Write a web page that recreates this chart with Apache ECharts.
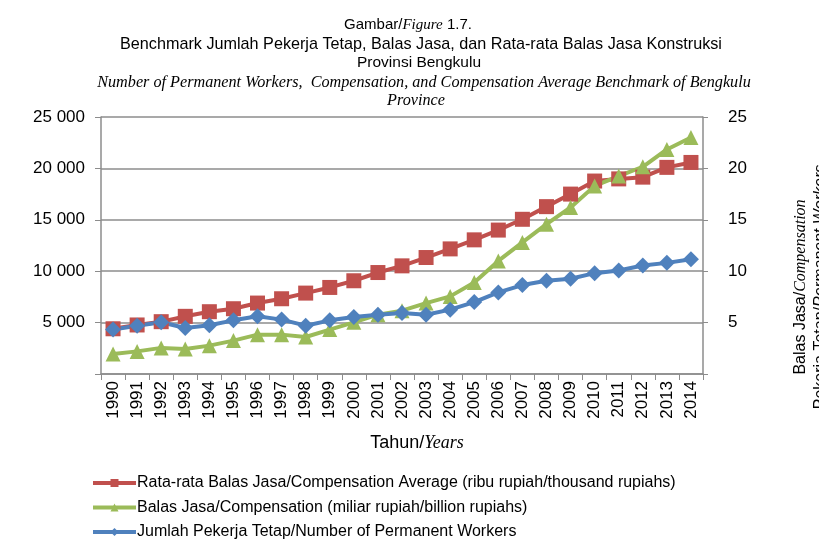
<!DOCTYPE html>
<html>
<head>
<meta charset="utf-8">
<script src="https://cdn.jsdelivr.net/npm/echarts@6/dist/echarts.min.js"></script>
<style>html,body{margin:0;padding:0;background:#fff}#c{width:819px;height:552px}</style>
</head>
<body>
<div id="c"></div>
<script>
var years = ['1990','1991','1992','1993','1994','1995','1996','1997','1998','1999','2000','2001','2002','2003','2004','2005','2006','2007','2008','2009','2010','2011','2012','2013','2014'];
var avgComp = [4400,4770,5090,5610,6060,6350,6900,7320,7870,8420,9070,9870,10520,11330,12170,13050,14000,15050,16280,17500,18770,18980,19150,20100,20580];
var comp = [1950,2200,2540,2440,2760,3250,3830,3830,3600,4320,5030,5770,6160,6900,7550,8900,11000,12800,14570,16200,18300,19250,20160,21840,23000];
var workers = [4320,4700,5030,4480,4740,5220,5610,5290,4700,5220,5550,5770,5930,5770,6260,7000,7940,8650,9070,9260,9810,10070,10550,10810,11170];
var leftTicks = [0,5000,10000,15000,20000,25000];
var rightTicks = [0,5,10,15,20,25];
var seriesNames = [
  'Rata-rata Balas Jasa/Compensation Average (ribu rupiah/thousand rupiahs)',
  'Balas Jasa/Compensation (miliar rupiah/billion rupiahs)',
  'Jumlah Pekerja Tetap/Number of Permanent Workers'
];

var chart = echarts.init(document.getElementById('c'));
var sans = 'Liberation Sans, Arial, sans-serif';
var serif = 'Liberation Serif, Times New Roman, serif';
function mkSeries(name, data, color, symbol, size) {
  return {
    name: name, type: 'line', data: data, yAxisIndex: 0,
    symbol: symbol, symbolSize: size,
    lineStyle: {color: color, width: 4},
    itemStyle: {color: color},
    emphasis: {disabled: true},
    animation: false
  };
}
function rs(size, italic, family) {
  return {fontFamily: family, fontStyle: italic ? 'italic' : 'normal', fontSize: size, color: '#000'};
}
var titleLines = [
  {x: 408, y: 25, text: '{a|Gambar/}{b|Figure}{a| 1.7.}', rich: {a: rs(15, false, sans), b: rs(15, true, serif)}},
  {x: 421, y: 45, text: '{a|Benchmark Jumlah Pekerja Tetap, Balas Jasa, dan Rata-rata Balas Jasa Konstruksi}', rich: {a: rs(16.2, false, sans)}},
  {x: 419, y: 63, text: '{a|Provinsi Bengkulu}', rich: {a: rs(15.5, false, sans)}},
  {x: 424, y: 83, text: '{b|Number of Permanent Workers,  Compensation, and Compensation Average Benchmark of Bengkulu}', rich: {b: rs(16.2, true, serif)}},
  {x: 416, y: 101, text: '{b|Province}', rich: {b: rs(16.2, true, serif)}}
];
var graphics = titleLines.map(function (l) {
  return {type: 'text', x: l.x, y: l.y, style: {text: l.text, rich: l.rich, textAlign: 'center', textVerticalAlign: 'middle'}};
});
graphics.push({type: 'text', x: 417, y: 443, style: {
  text: '{a|Tahun/}{b|Years}',
  rich: {a: rs(18, false, sans), b: rs(18, true, serif)},
  textAlign: 'center', textVerticalAlign: 'middle'}});
graphics.push({type: 'text', x: 811, y: 287, rotation: Math.PI / 2, style: {
  text: '{a|Balas Jasa/}{b|Compensation}\n{a|Pekerja Tetap/}{c|Permanent Workers}',
  rich: {
    a: Object.assign(rs(16, false, sans), {lineHeight: 20}),
    b: Object.assign(rs(16, true, serif), {lineHeight: 20}),
    c: Object.assign(rs(16, true, sans), {lineHeight: 20})
  },
  textAlign: 'center', textVerticalAlign: 'middle'}});

chart.setOption({
  animation: false,
  backgroundColor: '#fff',
  graphic: graphics,
  grid: {left: 101, right: 116, top: 117, bottom: 178, containLabel: false},
  legend: {
    orient: 'vertical', left: 86, top: 470, itemWidth: 43, itemHeight: 10, itemGap: 8.5,
    lineStyle: {width: 4},
    textStyle: {fontFamily: sans, fontSize: 16, color: '#000', padding: [0, 0, 0, -4]},
    data: seriesNames
  },
  xAxis: {
    type: 'category', data: years, boundaryGap: true,
    axisLine: {lineStyle: {color: '#8c8c8c', width: 1.5}},
    axisTick: {show: true, length: 6, interval: 0, lineStyle: {color: '#8c8c8c'}},
    axisLabel: {rotate: 90, interval: 0, margin: 7, fontFamily: sans, fontSize: 17, color: '#000'}
  },
  yAxis: [{
    type: 'value', min: leftTicks[0], max: leftTicks[leftTicks.length - 1], interval: 5000,
    axisLine: {show: true, lineStyle: {color: '#8c8c8c', width: 1.5}},
    axisTick: {show: true, length: 6, lineStyle: {color: '#8c8c8c'}},
    splitLine: {lineStyle: {color: '#8c8c8c', width: 1.5}},
    axisLabel: {margin: 16, fontFamily: sans, fontSize: 17, color: '#000',
      formatter: function (v) { return v === 0 ? '' : String(v).replace(/(\d)(?=(\d{3})+$)/g, '$1 '); }}
  }, {
    type: 'value', position: 'right', min: rightTicks[0], max: rightTicks[rightTicks.length - 1], interval: 5,
    axisLine: {show: true, lineStyle: {color: '#8c8c8c', width: 1.5}},
    axisTick: {show: true, length: 5, lineStyle: {color: '#8c8c8c'}},
    splitLine: {show: false},
    axisLabel: {margin: 25, fontFamily: sans, fontSize: 17, color: '#000',
      formatter: function (v) { return v === 0 ? '' : String(v); }}
  }],
  series: [
    mkSeries(seriesNames[0], avgComp, '#C0504D', 'rect', 15),
    mkSeries(seriesNames[1], comp, '#9BBB59', 'triangle', 15),
    mkSeries(seriesNames[2], workers, '#4F81BD', 'diamond', 16)
  ]
});
</script>
</body>
</html>
